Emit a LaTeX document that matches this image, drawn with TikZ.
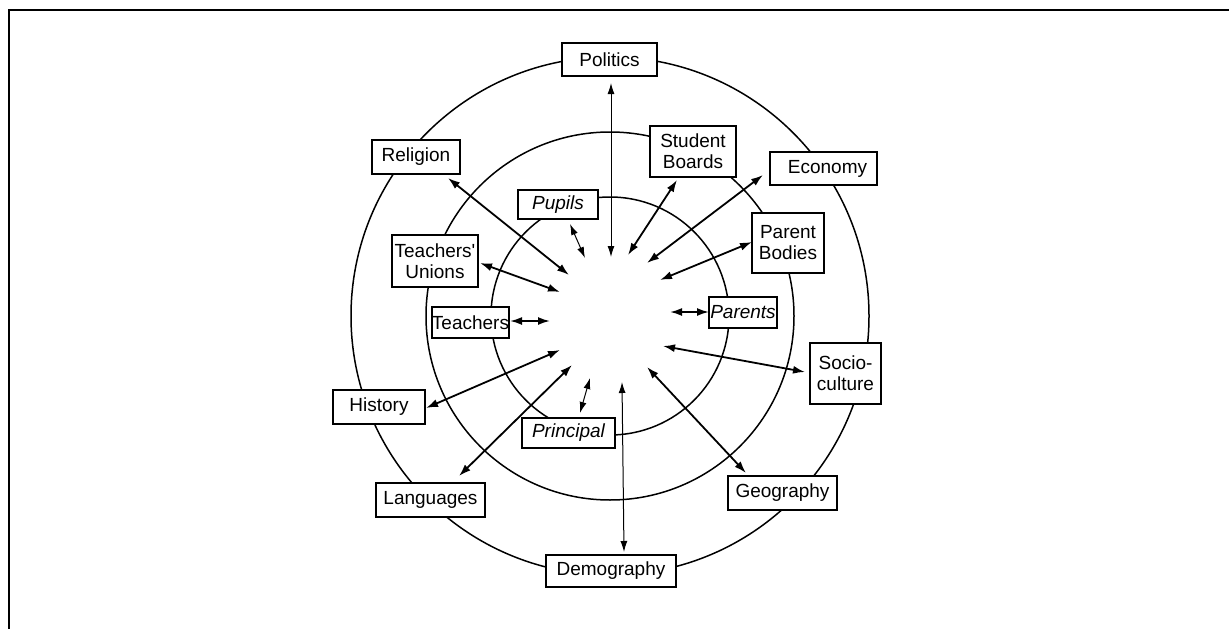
\documentclass[tikz,border=0pt]{standalone}
\usepackage{fontspec}
\setmainfont{Liberation Sans}
\usetikzlibrary{arrows.meta}
\begin{document}
\begin{tikzpicture}[x=1pt,y=-1pt,
  box/.style 2 args={draw, line width=1.6pt, fill=white, inner sep=0pt,
    align=center, minimum width=#1pt, minimum height=#2pt,
    font=\fontsize{19}{21}\selectfont},
  ring/.style={line width=1.5pt},
  link/.style={line width=1.8pt,
    {Latex[length=12pt,width=8pt]}-{Latex[length=12pt,width=8pt]}},
  thinlink/.style={line width=1pt,
    {Latex[length=11pt,width=7pt]}-{Latex[length=11pt,width=7pt]}},
]
\useasboundingbox (0,0) rectangle (1229,629);
% frame
\draw[line width=2.2pt] (9,629) -- (9,10) -- (1229,10);

% three concentric rings
\coordinate (hub) at (610,316);
\draw[ring] (hub) circle[radius=259pt];
\draw[ring] (hub) circle[radius=184pt];
\draw[ring] (hub) circle[radius=119pt];

% outer ring
\node[box={95}{33}]  (politics)   at (609.5,59.5) {Politics};
\node[box={88}{34}]  (religion)   at (416,157)    {Religion};
\node[box={107}{33}] (economy)    at (823.5,168.5){\hspace*{8pt}Economy};
\node[box={71}{61}]  (socio)      at (845.5,373.5){Socio-\\culture};
\node[box={92}{34}]  (history)    at (379,407)    {History};
\node[box={109}{34}] (languages)  at (430.5,500)  {Languages};
\node[box={109}{34}] (geography)  at (782.5,493)  {Geography};
\node[box={130}{32}] (demography) at (611,571)    {Demography};

% middle ring
\node[box={86}{51}]  (boards)     at (693,151.5)  {Student\\Boards};
\node[box={86}{52}]  (unions)     at (435,261)    {Teachers\textquotesingle\\Unions};
\node[box={72}{60}]  (bodies)     at (788,243)    {Parent\\Bodies};

% inner ring
\node[box={80}{29}]  (pupils)     at (558,204.5)  {\itshape Pupils};
\node[box={75}{31}]  (teachers)   at (470.5,322.5){Teachers};
\node[box={68}{31}]  (parents)    at (743,312.5)  {\itshape Parents};
\node[box={93}{30}]  (principal)  at (568.5,433)  {\itshape Principal};

% arrow ends around the hub and beside the boxes
\coordinate (politics-in)   at (611,257);  \coordinate (politics-out)   at (611,83);
\coordinate (boards-in)     at (628,255);  \coordinate (boards-out)     at (677,180);
\coordinate (pupils-in)     at (585,258);  \coordinate (pupils-out)     at (570,224);
\coordinate (religion-in)   at (569,275);  \coordinate (religion-out)   at (448,178);
\coordinate (unions-in)     at (560,292);  \coordinate (unions-out)     at (480,263);
\coordinate (economy-in)    at (647,263);  \coordinate (economy-out)    at (763,175);
\coordinate (bodies-in)     at (660,280);  \coordinate (bodies-out)     at (752,242);
\coordinate (parents-in)    at (670,312);  \coordinate (parents-out)    at (709,312);
\coordinate (socio-in)      at (663,346);  \coordinate (socio-out)      at (805,372);
\coordinate (geography-in)  at (647,367);  \coordinate (geography-out)  at (746,473);
\coordinate (demography-in) at (622,382);  \coordinate (demography-out) at (624,552);
\coordinate (principal-in)  at (590,378);  \coordinate (principal-out)  at (580,413);
\coordinate (languages-in)  at (572,365);  \coordinate (languages-out)  at (459,476);
\coordinate (history-in)    at (560,350);  \coordinate (history-out)    at (426,408);
\coordinate (teachers-in)   at (550,321);  \coordinate (teachers-out)   at (510,321);

% two-way links
\draw[thinlink] (politics-in)   -- (politics-out);
\draw[link]     (boards-in)     -- (boards-out);
\draw[thinlink] (pupils-in)     -- (pupils-out);
\draw[link]     (religion-in)   -- (religion-out);
\draw[link]     (unions-in)     -- (unions-out);
\draw[link]     (economy-in)    -- (economy-out);
\draw[link]     (bodies-in)     -- (bodies-out);
\draw[link]     (parents-in)    -- (parents-out);
\draw[link]     (socio-in)      -- (socio-out);
\draw[link]     (geography-in)  -- (geography-out);
\draw[thinlink] (demography-in) -- (demography-out);
\draw[thinlink] (principal-in)  -- (principal-out);
\draw[link]     (languages-in)  -- (languages-out);
\draw[link]     (history-in)    -- (history-out);
\draw[link]     (teachers-in)   -- (teachers-out);
\end{tikzpicture}
\end{document}
